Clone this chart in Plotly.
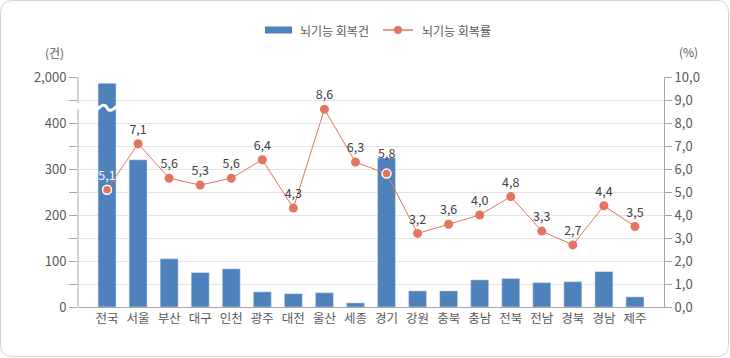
import plotly.graph_objects as go

# ---- data ----
regions = ["전국", "서울", "부산", "대구", "인천", "광주", "대전", "울산", "세종",
           "경기", "강원", "충북", "충남", "전북", "전남", "경북", "경남", "제주"]
recovery_counts = [1780, 320, 105, 75, 83, 33, 29, 31, 9,
                   324, 35, 35, 59, 62, 53, 55, 77, 22]
recovery_rates = [5.1, 7.1, 5.6, 5.3, 5.6, 6.4, 4.3, 8.6, 6.3,
                  5.8, 3.2, 3.6, 4.0, 4.8, 3.3, 2.7, 4.4, 3.5]
left_tick_values = [0, 100, 200, 300, 400, 2000]
right_tick_values = [0, 1, 2, 3, 4, 5, 6, 7, 8, 9, 10]
bar_name = "뇌기능 회복건"
line_name = "뇌기능 회복률"

# ---- broken-axis mapping (0-400 linear, 400-2000 compressed into one 100 band) ----
BREAK_LOW, BREAK_HIGH = 400, 2000


def to_display(v):
    if v <= BREAK_LOW:
        return v
    return BREAK_LOW + (v - BREAK_LOW) * 100 / (BREAK_HIGH - BREAK_LOW)


bar_display = [to_display(v) for v in recovery_counts]

BAR_COLOR = "#4F81BD"
LINE_COLOR = "#E27460"
TEXT = "#595959"
AXIS = "#A6A6A6"
GRID = "#E3E3E3"
FONT = "Noto Sans CJK KR"

W, H = 730, 358
L, R, T, B = 78, 66, 77, 51
PW, PH = W - L - R, H - T - B


def px(x):
    return (x - L) / PW


def py(y):
    return (H - B - y) / PH


fig = go.Figure()

fig.add_trace(go.Bar(
    x=regions, y=bar_display, name=bar_name, marker_color=BAR_COLOR,
    width=0.58, showlegend=False,
    customdata=recovery_counts, hovertemplate="%{x}: %{customdata:,}<extra></extra>",
))

special = {"전국", "경기"}
raised = {"경기"}  # label lifted above its bar
labels = [f"{v:.1f}".replace(".", ",") for v in recovery_rates]
fig.add_trace(go.Scatter(
    x=regions, y=recovery_rates, name=line_name, yaxis="y2",
    mode="lines+markers+text",
    line=dict(color=LINE_COLOR, width=1),
    marker=dict(size=9, color=LINE_COLOR,
                line=dict(color="white",
                          width=[1.5 if r in special else 0 for r in regions])),
    text=["" if r in raised else t for r, t in zip(regions, labels)],
    textposition="top center",
    textfont=dict(family=FONT, size=12.5,
                  color=["white" if r == "전국" else "#404040" for r in regions]),
    showlegend=False,
))

# left axis ticks: every 50 display units, labels on the 100s
lv = [0, 50, 100, 150, 200, 250, 300, 350, 400, 450, 500]
lt = []
for v in lv:
    if v == 500:
        lt.append(f"{left_tick_values[-1]:,}")
    elif v % 100 == 0 and v in left_tick_values:
        lt.append(f"{v:,}")
    else:
        lt.append("")

shapes = []
# rounded outer border
r = 12
x0, y0, x1, y1 = 0.5, 0.5, W - 1.5, H - 1.5
path = (f"M {px(x0 + r)},{py(y0)} L {px(x1 - r)},{py(y0)} "
        f"Q {px(x1)},{py(y0)} {px(x1)},{py(y0 + r)} L {px(x1)},{py(y1 - r)} "
        f"Q {px(x1)},{py(y1)} {px(x1 - r)},{py(y1)} L {px(x0 + r)},{py(y1)} "
        f"Q {px(x0)},{py(y1)} {px(x0)},{py(y1 - r)} L {px(x0)},{py(y0 + r)} "
        f"Q {px(x0)},{py(y0)} {px(x0 + r)},{py(y0)} Z")
shapes.append(dict(type="path", path=path, xref="paper", yref="paper",
                   line=dict(color="#D4D4D4", width=1), layer="below"))
# left axis line with break gap
shapes.append(dict(type="line", xref="paper", yref="y", x0=0, x1=0, y0=0, y1=430,
                   line=dict(color=AXIS, width=1)))
shapes.append(dict(type="line", xref="paper", yref="y", x0=0, x1=0, y0=443, y1=500,
                   line=dict(color=AXIS, width=1)))
# break wave on the first bar
shapes.append(dict(type="path", xref="x", yref="y",
                   path="M -0.33,428 C -0.15,442 -0.05,440 0,433 C 0.05,426 0.15,424 0.33,438",
                   line=dict(color="white", width=3)))

# manual legend
ly = 30
shapes.append(dict(type="rect", xref="paper", yref="paper",
                   x0=px(265), x1=px(292), y0=py(ly + 3.5), y1=py(ly - 3.5),
                   fillcolor=BAR_COLOR, line=dict(width=0)))
shapes.append(dict(type="line", xref="paper", yref="paper",
                   x0=px(383), x1=px(413), y0=py(ly), y1=py(ly),
                   line=dict(color=LINE_COLOR, width=1.5)))
shapes.append(dict(type="circle", xref="paper", yref="paper",
                   x0=px(394), x1=px(402), y0=py(ly + 4), y1=py(ly - 4),
                   fillcolor=LINE_COLOR, line=dict(width=0)))

annotations = [
    dict(text=bar_name, x=px(298), y=py(ly), xref="paper", yref="paper",
         xanchor="left", yanchor="middle", showarrow=False,
         font=dict(family=FONT, size=12, color=TEXT)),
    dict(text=line_name, x=px(420), y=py(ly), xref="paper", yref="paper",
         xanchor="left", yanchor="middle", showarrow=False,
         font=dict(family=FONT, size=12, color=TEXT)),
    dict(text="(건)", x=px(54), y=py(53), xref="paper", yref="paper",
         xanchor="center", yanchor="middle", showarrow=False,
         font=dict(family=FONT, size=12, color=TEXT)),
    dict(text="(%)", x=px(688), y=py(52), xref="paper", yref="paper",
         xanchor="center", yanchor="middle", showarrow=False,
         font=dict(family=FONT, size=12, color=TEXT)),
]
# raised labels (placed above their bars)
for reg, val, lab in zip(regions, recovery_rates, labels):
    if reg in raised:
        annotations.append(dict(text=lab, x=reg, y=val, xref="x", yref="y2",
                                yshift=21, showarrow=False,
                                xanchor="center", yanchor="middle",
                                font=dict(family=FONT, size=12.5, color="#404040")))

fig.update_layout(
    width=W, height=H,
    margin=dict(l=L, r=R, t=T, b=B, pad=0),
    paper_bgcolor="white", plot_bgcolor="white",
    font=dict(family=FONT, size=12.5, color=TEXT),
    showlegend=False,
    bargap=0.4,
    xaxis=dict(type="category", range=[-0.935, 17.935], showline=True,
               linecolor=AXIS, linewidth=1, ticks="", showgrid=False,
               tickfont=dict(family=FONT, size=12.5, color=TEXT)),
    yaxis=dict(range=[0, 500], tickvals=lv, ticktext=lt, showgrid=True,
               gridcolor=GRID, gridwidth=1, ticks="outside", ticklen=8,
               tickcolor=AXIS, showline=False, zeroline=False,
               tickfont=dict(family=FONT, size=13, color=TEXT)),
    yaxis2=dict(range=[0, 10], overlaying="y", side="right",
                tickvals=right_tick_values,
                ticktext=[f"{v:.1f}".replace(".", ",") for v in right_tick_values],
                showgrid=False, ticks="outside", ticklen=7, tickcolor=AXIS,
                showline=True, linecolor=AXIS, linewidth=1, zeroline=False,
                tickfont=dict(family=FONT, size=13, color=TEXT)),
    shapes=shapes,
    annotations=annotations,
)

fig.write_html("out.html",
               config={"displayModeBar": False},
               post_script="document.body.style.margin='0';document.body.style.overflow='hidden';")
